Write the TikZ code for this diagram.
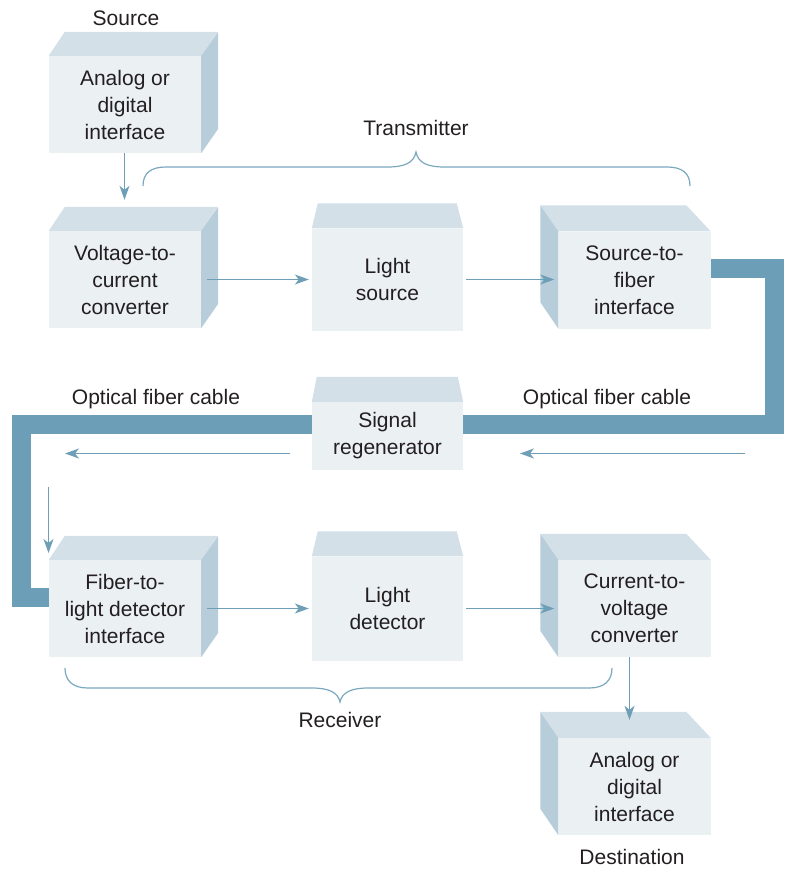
\documentclass[tikz,border=0pt]{standalone}
\usepackage{fontspec}
\setmainfont{Liberation Sans}
\usetikzlibrary{arrows.meta}
\definecolor{frontc}{HTML}{EBF0F3}
\definecolor{topc}{HTML}{D3E0E8}
\definecolor{sidec}{HTML}{B8CDDA}
\definecolor{cablec}{HTML}{6C9FB7}
\definecolor{arrc}{HTML}{6E9FB6}
\definecolor{bracec}{HTML}{7AA8BF}
\definecolor{txt}{HTML}{231F20}
\begin{document}
\begin{tikzpicture}[x=1pt,y=-1pt,
  font=\fontsize{21}{27}\selectfont,
  front/.style={fill=frontc, minimum width=152pt, inner sep=0pt, align=center, text=txt},
  lbl/.style={text=txt, inner sep=0pt},
  arr/.style={draw=arrc, line width=1.25pt, -{Stealth[length=14pt,width=10pt,inset=4pt]}},
  cable/.style={draw=cablec, line width=19pt, line join=miter},
  brace/.style={draw=bracec, line width=1.2pt},
  topface/.style={fill=topc},
  sideface/.style={fill=sidec}]
\useasboundingbox (0,0) rectangle (797,869);

% cable (behind boxes)
\coordinate (c1) at (711,268.5);
\coordinate (c2) at (774,268.5);
\coordinate (c3) at (774,424.5);
\coordinate (c4) at (463,424.5);
\coordinate (c5) at (312,424.5);
\coordinate (c6) at (21.5,424.5);
\coordinate (c7) at (21.5,597.5);
\coordinate (c8) at (52,597.5);
\draw[cable] (c1) -- (c2) -- (c3) -- (c4);
\draw[cable] (c5) -- (c6) -- (c7) -- (c8);

% left column boxes (side on right)
\foreach \n/\cx/\cy/\t in {src/125/104.5/{Analog or\\digital\\interface},
                          v2c/125/279.5/{Voltage-to-\\current\\converter},
                          f2l/125/608.5/{Fiber-to-\\light detector\\interface}}{
  \node[front, minimum height=97pt] (\n) at (\cx,\cy) {\t};
  \fill[topface] (\n.north west) -- ++(16,-24) -- ++(153,0) -- (\n.north east) -- cycle;
  \fill[sideface] (\n.north east) -- ++(17,-24) -- ++(0,97) -- (\n.south east) -- cycle;
}
% right column boxes (side on left)
\foreach \n/\cx/\cy/\t in {stf/634.5/280/{Source-to-\\fiber\\interface},
                          c2v/634.5/608.5/{Current-to-\\voltage\\converter},
                          dst/634.5/786.5/{Analog or\\digital\\interface}}{
  \node[front, minimum height=97pt] (\n) at (\cx,\cy) {\t};
  \fill[topface] (\n.north west) -- ++(-18,-26) -- ++(146,0) -- (\n.north east) -- cycle;
  \fill[sideface] (\n.north west) -- ++(-18,-26) -- ++(0,97) -- (\n.south west) -- cycle;
}
% middle boxes (top trapezoid only)
\node[front, minimum width=151pt, minimum height=102pt] (ls) at (387.5,279.5) {Light\\source};
\fill[topface] (ls.north west) -- ++(6,-25) -- ++(139,0) -- (ls.north east) -- cycle;
\node[front, minimum width=151pt, minimum height=68pt] (reg) at (387.5,436) {Signal\\regenerator};
\fill[topface] (reg.north west) -- ++(5,-25) -- ++(141,0) -- (reg.north east) -- cycle;
\node[front, minimum width=151pt, minimum height=104pt] (ld) at (387.5,608.5) {Light\\detector};
\fill[topface] (ld.north west) -- ++(6,-25) -- ++(139,0) -- (ld.north east) -- cycle;

% arrows between boxes
\draw[arr] ([xshift=-0.5pt]src.south) -- ([xshift=-0.5pt,yshift=31pt]v2c.north);
\draw[arr] ([xshift=6pt]v2c.east) -- ([xshift=-3pt]ls.west |- v2c.east);
\draw[arr] ([xshift=3pt]ls.east) -- ([xshift=-4pt]stf.west |- ls.east);
\draw[arr] ([xshift=6pt]f2l.east) -- ([xshift=-3pt]ld.west |- f2l.east);
\draw[arr] ([xshift=3pt]ld.east) -- ([xshift=-4pt]c2v.west |- ld.east);
\draw[arr] ([xshift=-5pt]c2v.south) -- ([xshift=-5pt,yshift=18pt]dst.north);

% direction arrows along the cable
\coordinate (ra) at (745,453.5);
\coordinate (rb) at (520,453.5);
\coordinate (la) at (290,453.5);
\coordinate (lb) at (65,453.5);
\coordinate (da) at (48.5,487);
\coordinate (db) at (48.5,553);
\draw[arr] (ra) -- (rb);
\draw[arr] (la) -- (lb);
\draw[arr] (da) -- (db);

% braces
\draw[brace] (143,186) .. controls (143,173) and (151,167) .. (166,167) -- (388,167)
  .. controls (404,167) and (414,163) .. (416,152)
  .. controls (418,163) and (428,167) .. (444,167) -- (667,167)
  .. controls (682,167) and (690,173) .. (690,186);
\draw[brace] (65,668) .. controls (65,681) and (73,688) .. (88,688) -- (312,688)
  .. controls (328,688) and (338,692) .. (340,702)
  .. controls (342,692) and (352,688) .. (368,688) -- (589,688)
  .. controls (604,688) and (612,681) .. (612,668);

% labels
\node[lbl] (lsrc) at (126,18) {Source};
\node[lbl] (ltx) at (416,128) {Transmitter};
\node[lbl] (lofl) at (156,399) {Optical fiber cable};
\node[lbl] (lofr) at (607,399) {Optical fiber cable};
\node[lbl] (lrx) at (340,720) {Receiver};
\node[lbl] (ldst) at (632,857) {Destination};
\end{tikzpicture}
\end{document}
